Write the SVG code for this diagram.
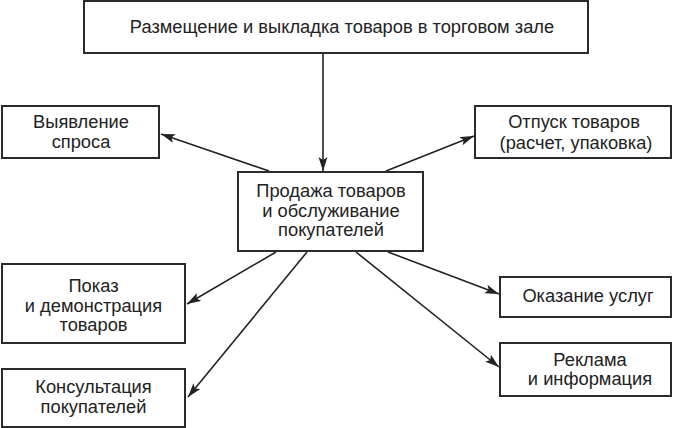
<svg xmlns="http://www.w3.org/2000/svg" width="673" height="428" viewBox="0 0 673 428">
<style>
.box{fill:#fff;stroke:#2b2b2b;stroke-width:2}
.t{font-family:"Liberation Sans",Arial,sans-serif;font-size:18.3px;fill:#222;text-anchor:middle}
.c{stroke:#222;stroke-width:1.6;fill:none;marker-end:url(#ah)}
</style>
<defs>
<marker id="ah" markerUnits="userSpaceOnUse" markerWidth="15" markerHeight="10" refX="14" refY="4.5" orient="auto">
<path d="M0,0 L14,4.5 L0,9 L3,4.5 Z" fill="#222"/>
</marker>
</defs>
<rect width="673" height="428" fill="#fff"/>
<g id="connectors">
<line class="c" x1="323" y1="53" x2="323" y2="171"/>
<line class="c" x1="269" y1="171" x2="161" y2="134"/>
<line class="c" x1="386" y1="171" x2="474" y2="136"/>
<line class="c" x1="276" y1="252" x2="187" y2="304"/>
<line class="c" x1="307" y1="252" x2="188" y2="397"/>
<line class="c" x1="356" y1="252" x2="499" y2="367"/>
<line class="c" x1="388" y1="252" x2="499" y2="294"/>
</g>
<g id="top">
<rect class="box" x="84" y="1" width="504" height="52"/>
<text class="t" x="342" y="33">Размещение и выкладка товаров в торговом зале</text>
</g>
<g id="center">
<rect class="box" x="238" y="172" width="185" height="79"/>
<text class="t" x="331" y="197">Продажа товаров</text>
<text class="t" x="331" y="216.5">и обслуживание</text>
<text class="t" x="331" y="236">покупателей</text>
</g>
<g id="demand">
<rect class="box" x="2" y="106" width="157" height="52"/>
<text class="t" x="81" y="128">Выявление</text>
<text class="t" x="81" y="148">спроса</text>
</g>
<g id="release">
<rect class="box" x="475" y="106" width="196" height="52"/>
<text class="t" x="574" y="128">Отпуск товаров</text>
<text class="t" x="576" y="148.5">(расчет, упаковка)</text>
</g>
<g id="show">
<rect class="box" x="2" y="264" width="183" height="79"/>
<text class="t" x="93.5" y="292">Показ</text>
<text class="t" x="93.5" y="311.5">и демонстрация</text>
<text class="t" x="93.5" y="331">товаров</text>
</g>
<g id="consult">
<rect class="box" x="2" y="369" width="183" height="58"/>
<text class="t" x="93.5" y="393">Консультация</text>
<text class="t" x="93.5" y="413">покупателей</text>
</g>
<g id="services">
<rect class="box" x="500" y="277" width="171" height="40"/>
<text class="t" x="588" y="302">Оказание услуг</text>
</g>
<g id="ads">
<rect class="box" x="500" y="343" width="171" height="53"/>
<text class="t" x="590" y="366">Реклама</text>
<text class="t" x="590" y="385">и информация</text>
</g>
</svg>
